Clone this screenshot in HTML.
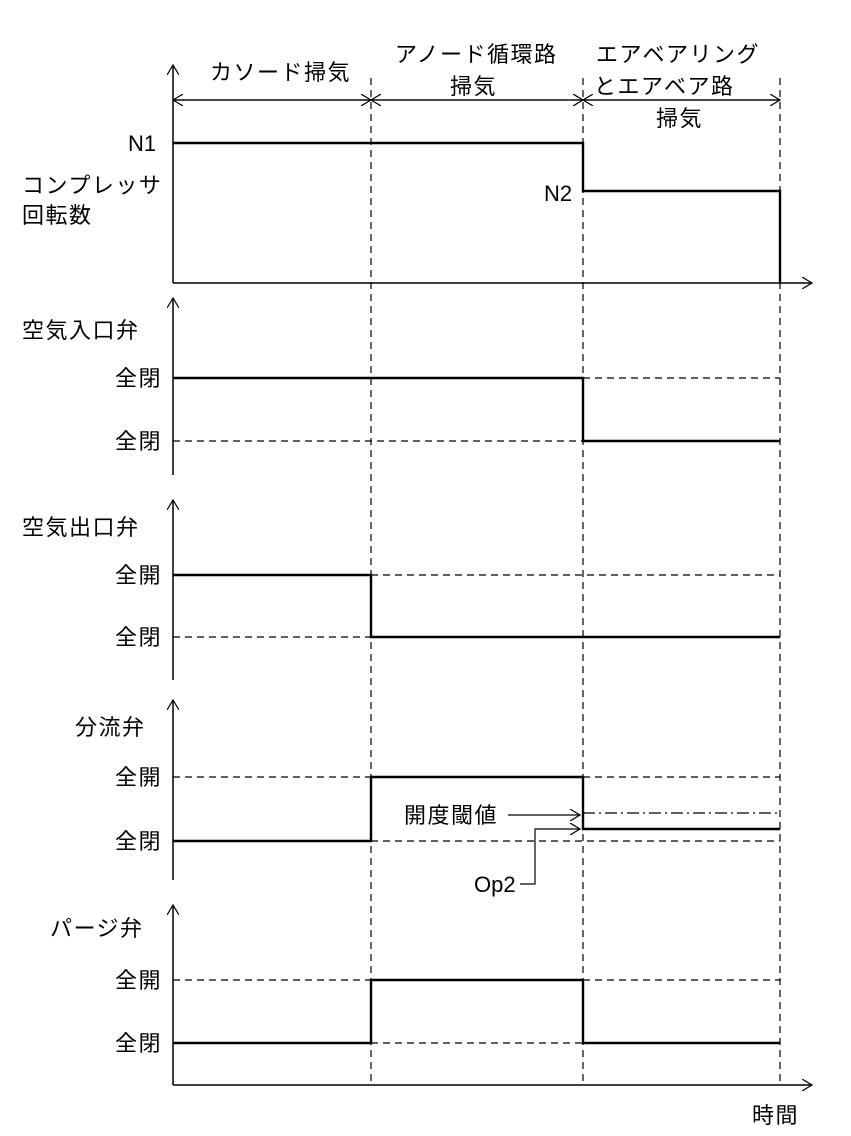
<!DOCTYPE html>
<html><head><meta charset="utf-8"><style>
html,body{margin:0;padding:0;background:#fff;}
svg{display:block;}
text{font-family:"Liberation Sans","Noto Sans CJK JP",sans-serif;font-size:22px;fill:#000;}
.j{letter-spacing:1.5px;}
</style></head><body>
<svg width="851" height="1136" viewBox="0 0 851 1136" xmlns="http://www.w3.org/2000/svg">
<defs>
<marker id="ah" markerWidth="12" markerHeight="12" refX="10" refY="6" orient="auto" markerUnits="userSpaceOnUse">
<path d="M0,0 L10,6 L0,12" fill="none" stroke="#000" stroke-width="1.2"/></marker>
</defs>
<g stroke="#000" fill="none">
<g stroke-dasharray="7,5" stroke-width="1.2">
<line x1="371" y1="78" x2="371" y2="1085"/>
<line x1="583" y1="78" x2="583" y2="1085"/>
<line x1="780" y1="78" x2="780" y2="1085"/>
</g>
<g stroke-width="1.2">
<line x1="371" y1="100" x2="173" y2="100" marker-end="url(#ah)"/>
<line x1="371" y1="100" x2="583" y2="100" marker-end="url(#ah)"/>
<line x1="583" y1="100" x2="371" y2="100" marker-end="url(#ah)"/>
<line x1="583" y1="100" x2="780" y2="100" marker-end="url(#ah)"/>
<line x1="780" y1="100" x2="583" y2="100" marker-end="url(#ah)"/>
<line x1="173" y1="100" x2="371" y2="100" marker-end="url(#ah)"/>
</g>
<g stroke-width="1.5">
<line x1="173" y1="283" x2="173" y2="65" marker-end="url(#ah)"/>
<line x1="173" y1="283" x2="812" y2="283" marker-end="url(#ah)"/>
<line x1="173" y1="475" x2="173" y2="298" marker-end="url(#ah)"/>
<line x1="173" y1="680" x2="173" y2="500" marker-end="url(#ah)"/>
<line x1="173" y1="880" x2="173" y2="700" marker-end="url(#ah)"/>
<line x1="173" y1="1085" x2="173" y2="905" marker-end="url(#ah)"/>
<line x1="173" y1="1085" x2="812" y2="1085" marker-end="url(#ah)"/>
</g>
<g stroke-dasharray="7,5" stroke-width="1.2">
<line x1="173" y1="441" x2="583" y2="441"/>
<line x1="583" y1="378" x2="780" y2="378"/>
<line x1="173" y1="637" x2="371" y2="637"/>
<line x1="371" y1="575" x2="780" y2="575"/>
<line x1="173" y1="777" x2="371" y2="777"/>
<line x1="583" y1="777" x2="780" y2="777"/>
<line x1="371" y1="841" x2="780" y2="841"/>
<line x1="173" y1="980" x2="371" y2="980"/>
<line x1="583" y1="980" x2="780" y2="980"/>
<line x1="371" y1="1043" x2="583" y2="1043"/>
</g>
<line x1="583" y1="813" x2="780" y2="813" stroke-dasharray="12,4,2,4" stroke-width="1.2"/>
<g stroke-width="2.4">
<polyline points="173,143 583,143 583,191 780,191 780,283"/>
<polyline points="173,378 583,378 583,441 780,441"/>
<polyline points="173,575 371,575 371,637 780,637"/>
<polyline points="173,841 371,841 371,777 583,777 583,829 780,829"/>
<polyline points="173,1043 371,1043 371,980 583,980 583,1043 780,1043"/>
</g>
<g stroke-width="1.2">
<line x1="508" y1="815" x2="580" y2="815" marker-end="url(#ah)"/>
<polyline points="520,884 535,884 535,829 580,829" marker-end="url(#ah)"/>
</g>
</g>
<text class="j" x="210" y="80">カソード掃気</text>
<text class="j" x="395" y="62">アノード循環路</text>
<text class="j" x="450" y="94">掃気</text>
<text class="j" x="596" y="62">エアベアリング</text>
<text class="j" x="594" y="94">とエアベア路</text>
<text class="j" x="656" y="126">掃気</text>
<text x="128" y="151">N1</text>
<text class="j" x="22" y="193">コンプレッサ</text>
<text class="j" x="22" y="223">回転数</text>
<text x="544" y="201">N2</text>
<text class="j" x="22" y="338">空気入口弁</text>
<text class="j" x="115" y="386">全閉</text>
<text class="j" x="115" y="449">全閉</text>
<text class="j" x="22" y="535">空気出口弁</text>
<text class="j" x="115" y="583">全開</text>
<text class="j" x="115" y="645">全閉</text>
<text class="j" x="75" y="735">分流弁</text>
<text class="j" x="115" y="785">全開</text>
<text class="j" x="115" y="849">全閉</text>
<text class="j" x="404" y="823">開度閾値</text>
<text x="474" y="892">Op2</text>
<text class="j" x="50" y="936">パージ弁</text>
<text class="j" x="115" y="988">全開</text>
<text class="j" x="115" y="1051">全閉</text>
<text class="j" x="752" y="1123">時間</text>
</svg>
</body></html>
